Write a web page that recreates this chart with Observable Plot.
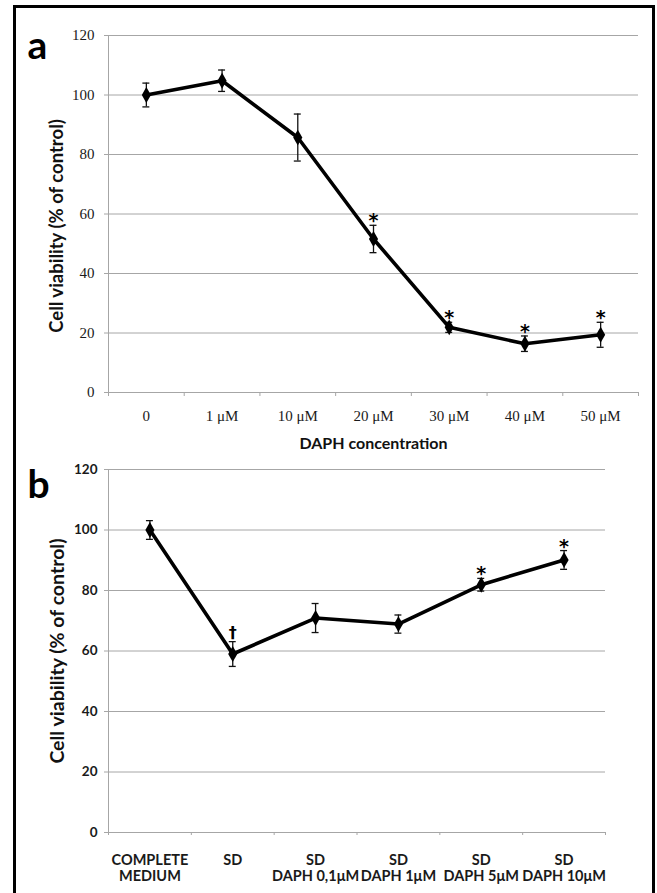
<!DOCTYPE html>
<html>
<head>
<meta charset="utf-8">
<script src="https://cdn.jsdelivr.net/npm/d3@7"></script>
<script src="https://cdn.jsdelivr.net/npm/@observablehq/plot@0.6"></script>
<style>
  html, body { margin: 0; padding: 0; background: #fff; overflow: hidden; }
  #page { position: relative; width: 657px; height: 893px; overflow: hidden; background: #fff; }
  #border { position: absolute; left: 13px; top: 5px; width: 642px; height: 1000px; border: 3px solid #000; box-sizing: border-box; }
  .panel { position: absolute; left: 0; }
  #pa { top: 0; }
  #pb { top: 440px; }
</style>
</head>
<body>
<div id="page">
  <div id="border"></div>
  <div id="pa" class="panel"></div>
  <div id="pb" class="panel"></div>
</div>
<script>
// ---- Data ----
const yTicks = [0, 20, 40, 60, 80, 100, 120];

const catsA = ["0", "1 μM", "10 μM", "20 μM", "30 μM", "40 μM", "50 μM"];
const meanA = [100, 104.8, 85.7, 51.6, 21.9, 16.4, 19.4];
const errA  = [4.0, 3.6, 7.9, 4.6, 1.7, 2.6, 4.2];
const sigA  = ["", "", "", "*", "*", "*", "*"];

const catsB = ["COMPLETE\nMEDIUM", "SD", "SD\nDAPH 0,1μM", "SD\nDAPH 1μM", "SD\nDAPH 5μM", "SD\nDAPH 10μM"];
const meanB = [100, 59.0, 70.9, 68.9, 81.9, 90.1];
const errB  = [3.1, 4.1, 4.8, 3.0, 2.1, 3.1];
const sigB  = ["", "†", "", "", "*", "*"];

const yTitle = "Cell viability (% of control)";
const xTitleA = "DAPH concentration";

const GRID = "#a6a6a6";
const SANS = "Lato, 'Open Sans', sans-serif";
const SERIF = "'Liberation Serif', 'DejaVu Serif', serif";

function rows(cats, mean, err, sig) {
  return cats.map((c, i) => ({i, c, m: mean[i], e: err[i], s: sig[i]}));
}

function panel({cats, mean, err, sig, height, marginTop, marginBottom, marginRight,
                tickFont, tickWeight, tickSize, yPad, xPad, capHalf, letter, xTitle, lineHeight, xTickLen,
                titleSize, titleDy}) {
  const data = rows(cats, mean, err, sig);
  const n = cats.length;
  const marks = [
    Plot.gridY(yTicks, {stroke: GRID, strokeOpacity: 1, strokeWidth: 1}),
    Plot.ruleX([-0.5], {stroke: GRID, strokeWidth: 1}),
    Plot.axisY(yTicks, {tickSize: 4, tickPadding: yPad, stroke: GRID, fill: "#1a1a1a",
      fontFamily: tickFont, fontSize: tickSize, fontWeight: tickWeight, label: null}),
    Plot.axisX(d3.range(n), {tickSize: 0, tickPadding: xPad, tickFormat: i => cats[i], fill: "#1a1a1a",
      fontFamily: tickFont, fontSize: tickSize + (tickWeight === "bold" ? 1 : 0), fontWeight: tickWeight,
      lineHeight: lineHeight, label: null}),
    Plot.axisX(d3.range(-0.5, n, 1), {tickSize: xTickLen, tickFormat: () => "", stroke: GRID, label: null}),
    // error bars
    Plot.ruleX(data, {x: "i", y1: d => d.m - d.e, y2: d => d.m + d.e, stroke: "#111", strokeWidth: 1.3}),
    Plot.ruleY(data, {y: d => d.m + d.e, x1: d => d.i - capHalf, x2: d => d.i + capHalf, stroke: "#111", strokeWidth: 1.3}),
    Plot.ruleY(data, {y: d => d.m - d.e, x1: d => d.i - capHalf, x2: d => d.i + capHalf, stroke: "#111", strokeWidth: 1.3}),
    // line + points
    Plot.line(data, {x: "i", y: "m", stroke: "#000", strokeWidth: 3.6, strokeLinejoin: "round"}),
    Plot.dot(data, {x: "i", y: "m", symbol: "diamond", fill: "#000", stroke: "none", r: 4.8}),
    // significance marks
    Plot.text(data.filter(d => d.s === "*"), {x: "i", y: d => d.m + d.e, text: "s", lineAnchor: "bottom", dy: 2,
      fontSize: 19, fontWeight: "bold", fontFamily: "'DejaVu Sans', sans-serif", fill: "#000"}),
    Plot.text(data.filter(d => d.s === "†"), {x: "i", y: d => d.m + d.e, text: "s", lineAnchor: "bottom", dy: -4,
      fontSize: 16, fontWeight: "bold", fontFamily: "'DejaVu Sans', sans-serif", fill: "#000"}),
    // y title
    Plot.text([yTitle], {frameAnchor: "left", dx: -51, dy: titleDy, rotate: -90, textAnchor: "middle", lineAnchor: "middle",
      fontSize: titleSize, fontWeight: "bold", fontFamily: SANS, fill: "#111"}),
    // panel letter
    Plot.text([letter], {frameAnchor: "top-left", dx: -81, dy: letter === "a" ? 23 : 28, textAnchor: "start",
      lineAnchor: "bottom", fontSize: 39, fontWeight: "bold", fontFamily: SANS, fill: "#000"})
  ];
  if (xTitle) {
    marks.push(Plot.text([xTitle], {frameAnchor: "bottom", dy: 56, lineAnchor: "bottom", fontSize: 16,
      fontWeight: "bold", fontFamily: SANS, fill: "#111"}));
  }
  return Plot.plot({
    width: 657, height, marginLeft: 108, marginRight, marginTop, marginBottom,
    style: {background: "transparent", overflow: "visible"},
    x: {type: "linear", domain: [-0.5, n - 0.5], axis: null},
    y: {domain: [0, 120], axis: null},
    marks
  });
}

document.getElementById("pa").append(panel({
  cats: catsA, mean: meanA, err: errA, sig: sigA,
  height: 450, marginTop: 35, marginBottom: 58, marginRight: 19,
  tickFont: SERIF, tickWeight: "normal", tickSize: 15, yPad: 10, xPad: 17,
  capHalf: 0.046, letter: "a", xTitle: xTitleA, lineHeight: 1.1, xTickLen: 4,
  titleSize: 18.5, titleDy: 12
}));

document.getElementById("pb").append(panel({
  cats: catsB, mean: meanB, err: errB, sig: sigB,
  height: 453, marginTop: 29, marginBottom: 61, marginRight: 52,
  tickFont: SANS, tickWeight: "bold", tickSize: 13.5, yPad: 7, xPad: 21,
  capHalf: 0.042, letter: "b", xTitle: null, lineHeight: 1.09, xTickLen: 3,
  titleSize: 19.5, titleDy: 0
}));
</script>
</body>
</html>
